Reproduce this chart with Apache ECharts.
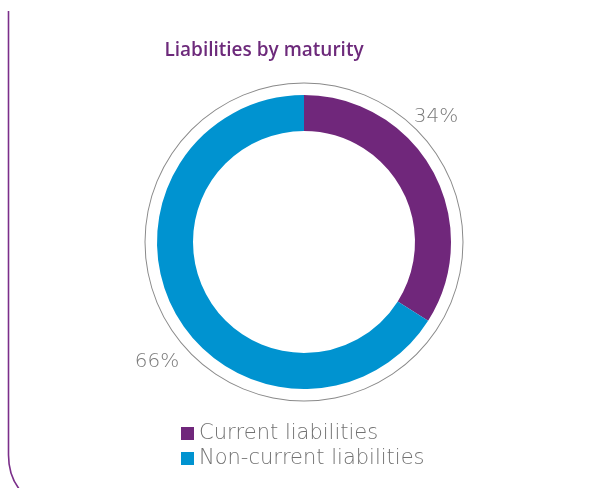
<!DOCTYPE html>
<html>
<head>
<meta charset="utf-8">
<script src="https://cdn.jsdelivr.net/npm/echarts@6/dist/echarts.min.js"></script>
<style>
  html, body { margin: 0; padding: 0; background: #fff; }
  #chart { width: 611px; height: 488px; }
</style>
</head>
<body>
<div id="chart"></div>
<script>
// 数据
var categories = ['Current liabilities', 'Non-current liabilities'];
var shares = [34, 66];
var labelText = ['34%', '66%'];
var colors = ['#70277b', '#0093d0'];

// 标签位置 (参考图里的位置)
var labelPos = [[436, 117], [157, 362]];

var pieData = categories.map(function(name, i) {
  return { name: name, value: shares[i], itemStyle: { color: colors[i] } };
});

var myChart = echarts.init(document.getElementById('chart'));
myChart.setOption({
  animation: false,
  title: {
    text: 'Liabilities by maturity',
    left: 259,
    top: 36,
    textAlign: 'center',
    textStyle: { color: '#6d2a7b', fontSize: 19, fontWeight: 600, fontFamily: 'Open Sans' }
  },
  legend: {
    orient: 'vertical',
    left: 181,
    top: 423,
    padding: 0,
    itemWidth: 13,
    itemHeight: 13,
    itemGap: 4,
    icon: 'rect',
    data: categories,
    textStyle: { color: '#727272', fontSize: 21, fontWeight: 200, fontFamily: 'DejaVu Sans' }
  },
  graphic: [{
    type: 'line',
    shape: { x1: 8.5, y1: 11, x2: 8.5, y2: 455 },
    style: { stroke: '#7b2f8a', lineWidth: 1.6 }
  }, {
    type: 'bezierCurve',
    shape: { x1: 8.5, y1: 455, cpx1: 8.5, cpy1: 476, x2: 20, y2: 490 },
    style: { fill: null, stroke: '#7b2f8a', lineWidth: 1.6 }
  }],
  series: [{
    // 外圈灰线
    type: 'pie',
    silent: true,
    center: [304, 242],
    radius: [158.5, 159.5],
    label: { show: false },
    labelLine: { show: false },
    data: [{ value: 1, itemStyle: { color: '#8a8a8a' } }]
  }, {
    type: 'pie',
    center: [304, 242],
    radius: [111, 147],
    startAngle: 90,
    clockwise: true,
    label: {
      show: true,
      position: 'outside',
      formatter: function(p) { return labelText[p.dataIndex]; },
      color: '#7a7a7a',
      fontSize: 20,
      fontWeight: 200,
      fontFamily: 'DejaVu Sans'
    },
    labelLine: { show: false },
    labelLayout: function(params) {
      var pos = labelPos[params.dataIndex];
      return { x: pos[0], y: pos[1], align: 'center', verticalAlign: 'middle' };
    },
    data: pieData
  }]
});
</script>
</body>
</html>
